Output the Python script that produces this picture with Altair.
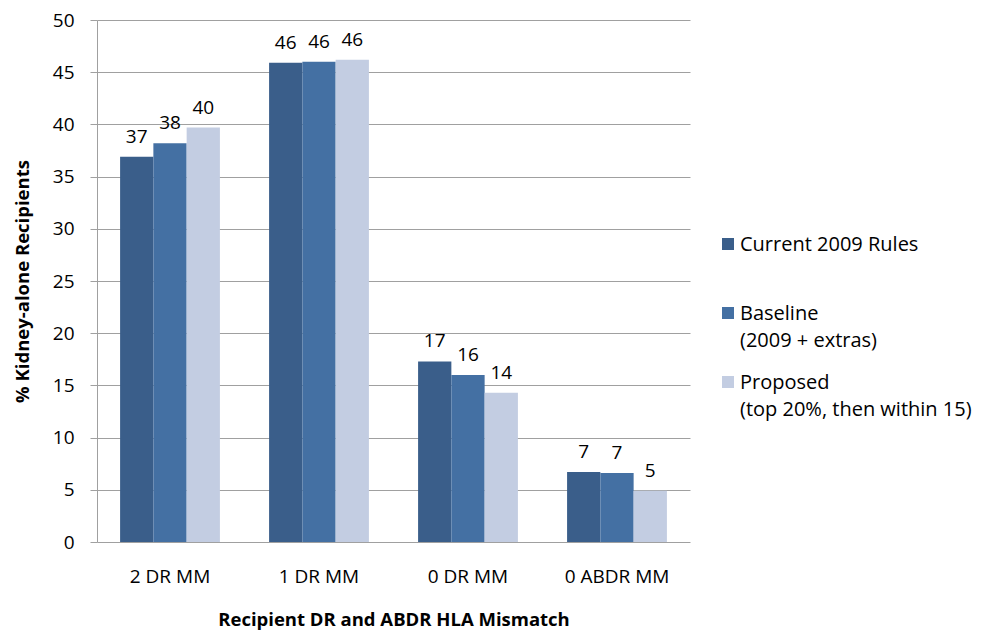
import altair as alt
import pandas as pd

categories = ["2 DR MM", "1 DR MM", "0 DR MM", "0 ABDR MM"]
series = ["Current 2009 Rules", "Baseline\n(2009 + extras)", "Proposed\n(top 20%, then within 15)"]
current = [36.9, 45.9, 17.3, 6.7]
baseline = [38.2, 46.0, 16.0, 6.6]
proposed = [39.7, 46.2, 14.3, 4.9]
colors = ["#3A5E8A", "#4470A3", "#C3CDE2"]
y_ticks = [0, 5, 10, 15, 20, 25, 30, 35, 40, 45, 50]

rows = []
for s, vals in zip(series, [current, baseline, proposed]):
    for c, v in zip(categories, vals):
        rows.append({"category": c, "series": s, "value": v})
df = pd.DataFrame(rows)

FONT = "Open Sans"
GRAY = "#A0A0A0"
color_scale = alt.Scale(domain=series, range=colors)

base = alt.Chart(df).encode(
    x=alt.X(
        "category:N",
        sort=categories,
        scale=alt.Scale(paddingInner=0.33, paddingOuter=0.155),
        axis=alt.Axis(
            title="Recipient DR and ABDR HLA Mismatch",
            labelAngle=0,
            ticks=False,
            domain=False,
            labelPadding=25,
            titlePadding=24,
        ),
    ),
    xOffset=alt.XOffset("series:N", sort=series, scale=alt.Scale(paddingInner=0, paddingOuter=0)),
    y=alt.Y(
        "value:Q",
        scale=alt.Scale(domain=[0, 50], nice=False),
        axis=alt.Axis(
            values=y_ticks,
            title="% Kidney-alone Recipients",
            grid=True,
            gridColor=GRAY,
            tickColor=GRAY,
            domainColor=GRAY,
            tickSize=7,
            labelPadding=16,
            titlePadding=20,
        ),
    ),
)

bars = base.mark_bar().encode(
    color=alt.Color("series:N", scale=color_scale, legend=None),
)
labels = base.mark_text(baseline="alphabetic", dy=-14, fontSize=19, font=FONT, color="#000").encode(
    text=alt.Text("value:Q", format=".0f"),
)
main = (bars + labels).properties(width=593, height=522)

leg_df = pd.DataFrame({"series": series})
leg_y = alt.Y("series:N", sort=series, scale=alt.Scale(type="point", range=[224, 362], padding=0), axis=None)
sym = alt.Chart(leg_df).mark_square(size=144, opacity=1).encode(
    x=alt.value(8),
    y=leg_y,
    color=alt.Color("series:N", scale=color_scale, legend=None),
)
txt = alt.Chart(leg_df).mark_text(
    align="left", baseline="alphabetic", dy=7, lineBreak="\n", lineHeight=27,
    fontSize=20, font=FONT, color="#000",
).encode(x=alt.value(20), y=leg_y, text="series:N")
legend_chart = (sym + txt).properties(width=240, height=522)

chart = alt.hconcat(main, legend_chart, spacing=30).properties(
    padding={"left": 5, "top": 3, "right": 2, "bottom": 2}
).configure_view(stroke=None).configure_axis(
    labelFont=FONT, labelFontSize=19, labelColor="#000",
    titleFont=FONT, titleFontSize=18.5, titleFontWeight="bold", titleColor="#000",
)

chart.save("out.html", embed_options={"renderer": "svg", "actions": False})
